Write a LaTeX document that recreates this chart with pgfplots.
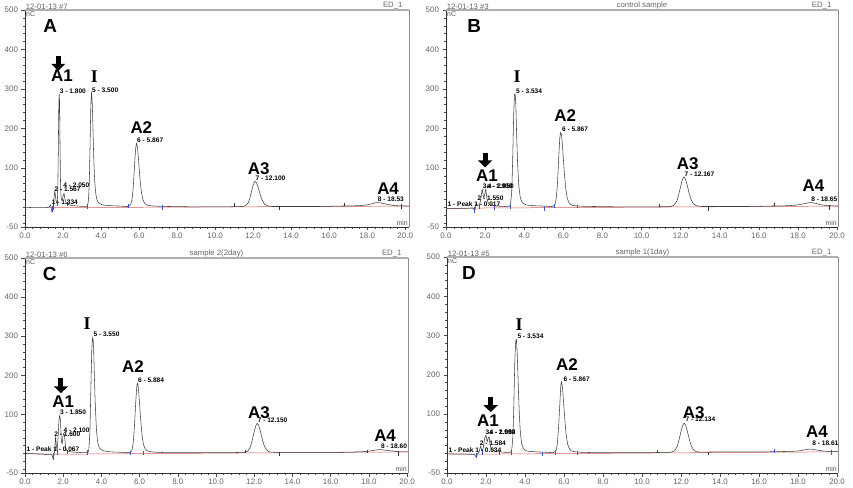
\documentclass[border=0pt]{standalone}
\usepackage{fontspec}
\setmainfont{Liberation Sans}
\newfontfamily\serifbold{Liberation Serif}
\usepackage{pgfplots}
\pgfplotsset{compat=1.18}
\usetikzlibrary{arrows.meta}

\definecolor{trace}{HTML}{404040}
\definecolor{bline}{HTML}{E05A5A}
\definecolor{evt}{HTML}{3A55C8}
\definecolor{frame}{HTML}{B0B0B0}

\newcommand\bl{\fontsize{17}{17}\selectfont\bfseries}
\newcommand\pl{\fontsize{6.6}{7}\selectfont\bfseries}
\newcommand\hd{\fontsize{7.8}{8}\selectfont}

\pgfplotsset{
  chrom/.style={
    scale only axis, clip=false,
    xmin=0, ymin=-50, ymax=500,
    axis x line*=bottom, axis y line*=left,
    x axis line style={-}, y axis line style={-},
    axis line style={black!80, line width=0.5bp},
    tick align=outside, major tick length=3.5bp, minor tick length=2bp,
    tick style={black!70, line width=0.4bp},
    xtick={0,2,...,20}, minor x tick num=4,
    ytick={-50,100,200,300,400,500},
    minor ytick={-40,-20,...,480},
    tick label style={font=\fontsize{8}{8}\selectfont, text=black!60},
    /pgf/number format/assume math mode=true,
    xticklabel style={/pgf/number format/.cd, fixed, fixed zerofill, precision=1},
    xticklabel shift=-1bp,
  },
  tr/.style={trace, line width=0.55bp, smooth, tension=0.35},
  bl/.style={bline, line width=0.5bp},
  ev/.style={evt, line width=0.5bp, unbounded coords=jump},
  ek/.style={black!80, line width=0.5bp, unbounded coords=jump},
}

\newcommand\frameit[3]{%
  \draw[frame, line width=1.6bp] (rel axis cs:0,1) -- (rel axis cs:1,1);
  \draw[black!45, line width=0.6bp] (rel axis cs:1,1) -- (rel axis cs:1,0);
  \node[font=\hd, text=black!60, anchor=south west, inner sep=0.6bp] at (rel axis cs:0,1) {#1};
  \node[font=\hd, text=black!60, anchor=south, inner sep=0.6bp] at (rel axis cs:0.5,1) {#2};
  \node[font=\hd, text=black!60, anchor=south east, inner sep=0.6bp] at (rel axis cs:0.985,1) {#3};
  \node[font=\fontsize{7}{7}\selectfont, text=black!65, anchor=north west, inner sep=1bp] at (rel axis cs:0,1) {nC};
  \node[font=\fontsize{7}{7}\selectfont, text=black!65, anchor=south east, inner sep=1bp] at (rel axis cs:1,0) {min};
}
\newcommand\darrow[3]{\draw[black, line width=5bp, -{Triangle[width=14bp,length=7bp]}] (axis cs:#1,#2) -- (axis cs:#1,#3);}
\newcommand\blab[3]{\node[font=\bl, inner sep=0pt] at (axis cs:#1,#2) {#3};}
\newcommand\bigI[2]{\node[font=\fontsize{18}{18}\serifbold\bfseries, inner sep=0pt] at (axis cs:#1,#2) {I};}
\newcommand\pk[3]{\node[font=\pl, anchor=south west, inner sep=0.5bp] at (axis cs:#1,#2) {#3};}

\begin{document}
\begin{tikzpicture}
\useasboundingbox (0,0) rectangle (853bp,488bp);

% ---------------- A ----------------
\begin{axis}[chrom, at={(25bp,261bp)}, anchor=south west, width=384bp, height=217bp, xmax=20.2]
\addplot[bl] coordinates {(1.25,-1) (20.2,3)};
\addplot[tr] coordinates {
(0.0,0) (0.5,-1) (1.0,-1) (1.25,0) (1.30,3) (1.334,6) (1.37,2) (1.41,-11) (1.45,-4)
(1.50,8) (1.54,30) (1.567,40) (1.60,30) (1.65,12) (1.70,15) (1.73,60) (1.76,180)
(1.78,260) (1.80,287) (1.82,260) (1.84,170) (1.87,60) (1.90,25) (1.95,18) (2.00,26)
(2.05,35) (2.10,22) (2.18,10) (2.4,5) (2.8,3) (3.2,2) (3.28,4) (3.33,15) (3.38,60)
(3.42,150) (3.46,250) (3.50,290) (3.54,260) (3.58,190) (3.62,120) (3.67,65) (3.73,32)
(3.80,17) (3.9,10) (4.1,6) (4.5,4) (5.0,3) (5.4,2) (5.55,6) (5.63,20) (5.70,55)
(5.76,105) (5.82,148) (5.867,162) (5.92,150) (5.98,115) (6.05,72) (6.12,40) (6.2,20)
(6.3,10) (6.45,5) (6.8,3) (7.5,2) (9,1) (10.5,1) (11.4,2) (11.6,4) (11.75,12)
(11.85,27) (11.95,47) (12.03,60) (12.10,66) (12.18,62) (12.27,50) (12.37,33) (12.48,18)
(12.6,8) (12.75,4) (13.0,2) (14,2) (15.5,2) (16.5,3) (17.5,4) (18.0,6) (18.3,10)
(18.53,12) (18.8,10) (19.1,7) (19.5,4) (20.2,3)};
\addplot[ev] coordinates {(1.42,-13) (1.42,2) (1.42,nan) (1.5,-6) (1.5,10) (1.5,nan)
(1.70,4) (1.70,18) (1.70,nan) (2.2,2) (2.2,14) (2.2,nan) (3.27,-4) (3.27,8) (3.27,nan)
(5.45,-3) (5.45,8) (5.45,nan) (7.2,-6) (7.2,6)};
\addplot[ek] coordinates {(11.0,1) (11.0,10) (11.0,nan) (13.4,-7) (13.4,3) (13.4,nan)
(16.8,2) (16.8,12) (16.8,nan) (19.8,-5) (19.8,8)};
\frameit{12-01-13 \#7}{}{ED\_1}
\pk{1.38}{4}{1 - 1.334}
\pk{1.52}{38}{2 - 1.567}
\pk{1.98}{48}{4 - 2.050}
\pk{1.80}{287}{3 - 1.800}
\pk{3.50}{288}{5 - 3.500}
\pk{5.867}{162}{6 - 5.867}
\pk{12.10}{66}{7 - 12.100}
\pk{18.53}{12}{8 - 18.53}
\node[font=\fontsize{19}{19}\selectfont\bfseries, inner sep=0pt] at (axis cs:1.33,460) {A};
\darrow{1.75}{384}{346}
\blab{1.95}{334}{A1}
\bigI{3.65}{330}
\blab{6.12}{202}{A2}
\blab{12.3}{98}{A3}
\blab{19.1}{47}{A4}
\end{axis}

% ---------------- B ----------------
\begin{axis}[chrom, at={(446bp,261bp)}, anchor=south west, width=392bp, height=217bp, xmax=20.05]
\addplot[bl] coordinates {(0,-3) (1.4,-2) (20.05,3)};
\addplot[tr] coordinates {
(0,-3) (0.5,-3) (1.0,-3) (1.4,-2) (1.45,-12) (1.5,-2) (1.55,10) (1.6,6) (1.7,5)
(1.78,20) (1.85,45) (1.92,25) (1.97,30) (2.03,45) (2.10,20) (2.2,8) (2.35,5) (2.6,3)
(3.0,2) (3.25,3) (3.3,10) (3.36,40) (3.41,120) (3.46,230) (3.50,282) (3.534,287)
(3.57,260) (3.61,190) (3.66,115) (3.72,58) (3.80,25) (3.9,12) (4.1,6) (4.5,4) (5.0,3)
(5.4,2) (5.55,5) (5.63,20) (5.70,60) (5.76,120) (5.82,175) (5.867,190) (5.92,178)
(5.98,140) (6.05,90) (6.12,50) (6.2,24) (6.3,11) (6.45,5) (6.8,3) (7.5,2) (9,1)
(10.5,1) (11.5,2) (11.65,5) (11.8,15) (11.9,32) (12.0,52) (12.08,68) (12.167,77)
(12.25,71) (12.34,55) (12.44,35) (12.55,18) (12.67,8) (12.8,4) (13.1,2) (14,2)
(15.5,2) (16.5,3) (17.5,4) (18.0,6) (18.4,10) (18.65,12) (18.9,10) (19.2,6) (19.6,4)
(20.05,3)};
\addplot[ev] coordinates {(1.45,-14) (1.45,0) (1.45,nan) (1.72,-4) (1.72,8) (1.72,nan)
(2.45,-8) (2.45,4) (2.45,nan) (3.28,-4) (3.28,6) (3.28,nan) (5.0,-9) (5.0,2) (5.0,nan)
(5.55,-3) (5.55,8) (5.55,nan) (6.7,-3) (6.7,7)};
\addplot[ek] coordinates {(10.9,1) (10.9,9) (10.9,nan) (13.4,-9) (13.4,3) (13.4,nan)
(16.8,2) (16.8,11) (16.8,nan) (19.6,-6) (19.6,7)};
\frameit{12-01-13 \#3}{control sample}{ED\_1}
\node[font=\pl, anchor=south west, inner sep=0.5bp] at (axis cs:0.05,0) {1 - Peak 1 - 0.017};
\pk{1.58}{14}{2 - 1.550}
\pk{1.85}{46}{3a - 1.900}
\pk{2.10}{46}{4 - 2.050}
\pk{3.55}{287}{5 - 3.534}
\pk{5.90}{190}{6 - 5.867}
\pk{12.17}{77}{7 - 12.167}
\pk{18.65}{12}{8 - 18.65}
\node[font=\fontsize{19}{19}\selectfont\bfseries, inner sep=0pt] at (axis cs:1.44,460) {B};
\darrow{2.0}{137}{101}
\blab{2.1}{79}{A1}
\bigI{3.64}{330}
\blab{6.1}{233}{A2}
\blab{12.36}{111}{A3}
\blab{18.8}{56}{A4}
\end{axis}

% ---------------- C ----------------
\begin{axis}[chrom, at={(25bp,15bp)}, anchor=south west, width=383bp, height=215bp, xmax=20.05]
\addplot[bl] coordinates {(0,0) (1.4,-2) (20.05,4)};
\addplot[tr] coordinates {
(0,0) (0.5,-1) (1.0,-2) (1.4,-3) (1.47,-14) (1.52,-4) (1.56,15) (1.60,41) (1.64,20)
(1.68,10) (1.73,40) (1.78,85) (1.82,97) (1.86,80) (1.90,35) (1.94,25) (1.99,45)
(2.04,52) (2.09,35) (2.15,12) (2.3,5) (2.7,3) (3.1,2) (3.3,3) (3.35,15) (3.40,60)
(3.45,170) (3.50,270) (3.55,297) (3.59,270) (3.63,200) (3.68,125) (3.74,62) (3.81,28)
(3.9,14) (4.1,7) (4.5,4) (5.0,3) (5.45,2) (5.58,6) (5.66,25) (5.73,70) (5.79,125)
(5.85,170) (5.884,180) (5.93,170) (5.99,132) (6.06,85) (6.13,46) (6.21,22) (6.32,10)
(6.5,5) (6.9,3) (7.5,2) (9,2) (10.5,2) (11.5,3) (11.65,6) (11.8,17) (11.9,35)
(12.0,56) (12.08,70) (12.15,77) (12.23,72) (12.32,57) (12.42,37) (12.53,19) (12.65,9)
(12.8,4) (13.1,3) (14,3) (15.5,3) (16.5,3) (17.5,4) (18.0,6) (18.4,9) (18.6,10)
(18.9,8) (19.3,6) (19.6,4) (20.05,4)};
\addplot[ev] coordinates {(1.47,-16) (1.47,0) (1.47,nan) (1.68,-3) (1.68,12) (1.68,nan)
(2.2,-2) (2.2,10) (2.2,nan) (3.28,-3) (3.28,8) (3.28,nan) (5.5,-4) (5.5,7) (5.5,nan)
(6.2,-3) (6.2,6)};
\addplot[ek] coordinates {(11.55,1) (11.55,10) (11.55,nan) (13.3,-7) (13.3,3) (13.3,nan)
(17.9,1) (17.9,10) (17.9,nan) (19.55,-6) (19.55,6)};
\frameit{12-01-13 \#6}{sample 2(2day)}{ED\_1}
\node[font=\pl, anchor=south west, inner sep=0.5bp] at (axis cs:0.05,2) {1 - Peak 1 - 0.067};
\pk{1.50}{42}{2 - 1.600}
\pk{1.98}{52}{4 - 2.100}
\pk{1.80}{97}{3 - 1.850}
\pk{3.55}{297}{5 - 3.550}
\pk{5.884}{180}{6 - 5.884}
\pk{12.15}{77}{7 - 12.150}
\pk{18.60}{10}{8 - 18.60}
\node[font=\fontsize{19}{19}\selectfont\bfseries, inner sep=0pt] at (axis cs:1.3,460) {C};
\darrow{1.88}{192}{154}
\blab{2.0}{133}{A1}
\bigI{3.25}{333}
\blab{5.65}{222}{A2}
\blab{12.25}{105}{A3}
\blab{18.85}{46}{A4}
\end{axis}

% ---------------- D ----------------
\begin{axis}[chrom, at={(447bp,15bp)}, anchor=south west, width=391bp, height=216bp, xmax=20.05]
\addplot[bl] coordinates {(0,-1) (1.4,-2) (20.05,4)};
\addplot[tr] coordinates {
(0,-1) (0.5,-2) (1.0,-2) (1.4,-3) (1.5,-10) (1.55,-3) (1.65,5) (1.72,18) (1.78,8)
(1.85,12) (1.93,38) (2.00,46) (2.06,30) (2.11,38) (2.16,42) (2.22,20) (2.3,10)
(2.5,5) (2.9,3) (3.25,3) (3.32,10) (3.38,45) (3.43,130) (3.48,240) (3.53,285)
(3.56,290) (3.60,255) (3.65,180) (3.70,110) (3.76,55) (3.83,25) (3.92,12) (4.1,6)
(4.5,4) (5.0,3) (5.45,2) (5.58,6) (5.65,22) (5.72,65) (5.78,120) (5.83,168)
(5.867,182) (5.91,172) (5.97,135) (6.04,88) (6.11,48) (6.19,23) (6.3,10) (6.45,5)
(6.8,3) (7.5,2) (9,2) (10.5,2) (11.5,3) (11.65,6) (11.8,17) (11.9,35) (12.0,56)
(12.08,70) (12.16,77) (12.24,71) (12.33,55) (12.43,35) (12.54,18) (12.66,8) (12.8,4)
(13.1,3) (14,4) (15.5,4) (16.5,4) (17.5,5) (18.0,6) (18.35,9) (18.61,11) (18.9,9)
(19.3,6) (19.6,5) (20.05,5)};
\addplot[ev] coordinates {(1.5,-12) (1.5,0) (1.5,nan) (1.82,-3) (1.82,10) (1.82,nan)
(2.7,-5) (2.7,5) (2.7,nan) (3.28,-3) (3.28,7) (3.28,nan) (4.9,-7) (4.9,3) (4.9,nan)
(5.55,-3) (5.55,8) (5.55,nan) (6.7,-3) (6.7,6) (6.7,nan) (10.8,1) (10.8,9) (10.8,nan)
(16.8,2) (16.8,11) (16.8,nan) (19.7,-5) (19.7,8)};
\addplot[ek] coordinates {(13.4,-5) (13.4,3)};
\frameit{12-01-13 \#5}{sample 1(1day)}{ED\_1}
\node[font=\pl, anchor=south west, inner sep=0.5bp] at (axis cs:0.05,0) {1 - Peak 1 - 0.034};
\pk{1.65}{18}{2 - 1.584}
\pk{1.95}{47}{3a - 1.990}
\pk{2.15}{47}{4 - 2.084}
\pk{3.58}{290}{5 - 3.534}
\pk{5.95}{182}{6 - 5.867}
\pk{12.2}{80}{7 - 12.134}
\pk{18.7}{18}{8 - 18.61}
\node[font=\fontsize{19}{19}\selectfont\bfseries, inner sep=0pt] at (axis cs:1.13,460) {D};
\darrow{2.24}{143}{105}
\blab{2.1}{82}{A1}
\bigI{3.7}{328}
\blab{6.15}{225}{A2}
\blab{12.65}{104}{A3}
\blab{18.97}{54}{A4}
\end{axis}
\end{tikzpicture}
\end{document}
